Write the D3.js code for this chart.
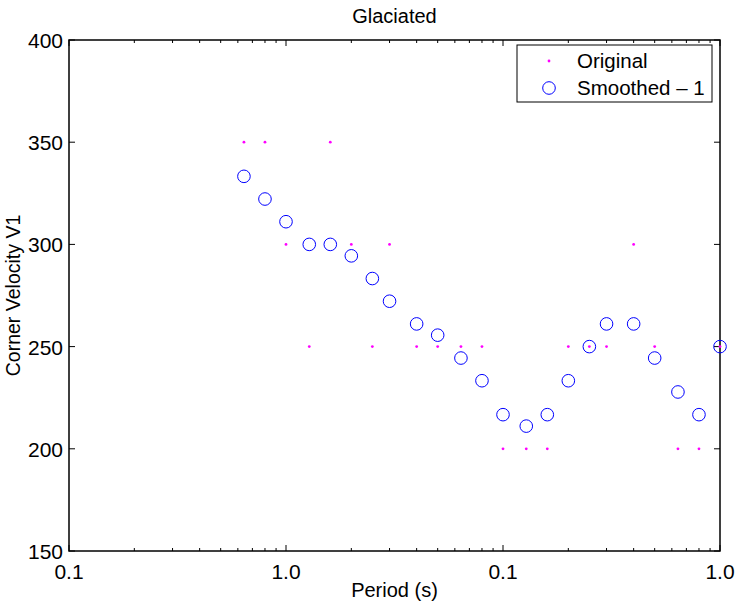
<!DOCTYPE html>
<html>
<head>
<meta charset="utf-8">
<script src="https://cdn.jsdelivr.net/npm/d3@7"></script>
<style>
  body { margin: 0; background: #fff; }
  text { font-family: "Liberation Sans", Arial, Helvetica, sans-serif; fill: #000; }
</style>
</head>
<body>
<div id="chart-area"></div>
<script>
var width = 740,
    height = 605;

// data
var periods = [0.64, 0.8, 1.0, 1.28, 1.6, 2.0, 2.5, 3.0, 4.0, 5.0, 6.4, 8.0,
               10, 12.8, 16, 20, 25, 30, 40, 50, 64, 80, 100];
var original = [350, 350, 300, 250, 350, 300, 250, 300, 250, 250, 250, 250,
                200, 200, 200, 250, 250, 250, 300, 250, 200, 200, 250];
var smoothed = [333.3, 322.2, 311.1, 300, 300, 294.4, 283.3, 272.2, 261.1, 255.6, 244.4, 233.3,
                216.7, 211.1, 216.7, 233.3, 250, 261.1, 261.1, 244.4, 227.8, 216.7, 250];
var xTickValues = [0.1, 1, 10, 100];
var xTickLabels = ["0.1", "1.0", "0.1", "1.0"];
var yTickValues = [150, 200, 250, 300, 350, 400];
var seriesNames = ["Original", "Smoothed \u2013 1"];

var margin = {top: 40, right: 20, bottom: 54, left: 69};
var w = width - margin.left - margin.right,   // 651
    h = height - margin.top - margin.bottom;  // 511

var svg = d3.select("#chart-area").append("svg")
    .attr("width", width)
    .attr("height", height);

var g = svg.append("g")
    .attr("transform", "translate(" + margin.left + "," + margin.top + ")");

var x = d3.scaleLog().domain([0.1, 100]).range([0, w]);
var y = d3.scaleLinear().domain([150, 400]).range([h, 0]);

// minor ticks on the log axis (top and bottom)
var minor = x.ticks().filter(function(d) { return xTickValues.indexOf(d) < 0; });

g.selectAll(".minor-b").data(minor).enter().append("line")
    .attr("x1", d => x(d)).attr("x2", d => x(d))
    .attr("y1", h).attr("y2", h - 3)
    .style("stroke", "#000").style("stroke-width", 1);
g.selectAll(".minor-t").data(minor).enter().append("line")
    .attr("x1", d => x(d)).attr("x2", d => x(d))
    .attr("y1", 0).attr("y2", 3)
    .style("stroke", "#000").style("stroke-width", 1);

// major ticks
g.selectAll(".major-b").data(xTickValues).enter().append("line")
    .attr("x1", d => x(d)).attr("x2", d => x(d))
    .attr("y1", h).attr("y2", h - 6)
    .style("stroke", "#000");
g.selectAll(".major-t").data(xTickValues).enter().append("line")
    .attr("x1", d => x(d)).attr("x2", d => x(d))
    .attr("y1", 0).attr("y2", 6)
    .style("stroke", "#000");
g.selectAll(".ytick-l").data(yTickValues).enter().append("line")
    .attr("x1", 0).attr("x2", 6)
    .attr("y1", d => y(d)).attr("y2", d => y(d))
    .style("stroke", "#000");
g.selectAll(".ytick-r").data(yTickValues).enter().append("line")
    .attr("x1", w).attr("x2", w - 6)
    .attr("y1", d => y(d)).attr("y2", d => y(d))
    .style("stroke", "#000");

// box
g.append("rect")
    .attr("x", 0).attr("y", 0)
    .attr("width", w).attr("height", h)
    .style("fill", "none")
    .style("stroke", "#000")
    .style("stroke-width", 1.5);

// tick labels
g.selectAll(".xlabel").data(xTickValues).enter().append("text")
    .attr("x", d => x(d))
    .attr("y", h + 28)
    .attr("text-anchor", "middle")
    .style("font-size", "21px")
    .text((d, i) => xTickLabels[i]);

g.selectAll(".ylabel").data(yTickValues).enter().append("text")
    .attr("x", -6)
    .attr("y", d => y(d) + 8)
    .attr("text-anchor", "end")
    .style("font-size", "21px")
    .text(d => d);

// titles
svg.append("text")
    .attr("x", margin.left + w / 2)
    .attr("y", 23)
    .attr("text-anchor", "middle")
    .style("font-size", "20px")
    .text("Glaciated");

svg.append("text")
    .attr("x", margin.left + w / 2)
    .attr("y", 597)
    .attr("text-anchor", "middle")
    .style("font-size", "20px")
    .text("Period (s)");

svg.append("text")
    .attr("transform", "translate(20," + (margin.top + h / 2) + ") rotate(-90)")
    .attr("text-anchor", "middle")
    .style("font-size", "19.5px")
    .text("Corner Velocity V1");

// data
var pts = periods.map(function(p, i) { return {p: p, o: original[i], s: smoothed[i]}; });

g.selectAll(".orig").data(pts).enter().append("circle")
    .attr("cx", d => x(d.p))
    .attr("cy", d => y(d.o))
    .attr("r", 1.4)
    .style("fill", "#ff00ff");

g.selectAll(".smooth").data(pts).enter().append("circle")
    .attr("cx", d => x(d.p))
    .attr("cy", d => y(d.s))
    .attr("r", 6.3)
    .style("fill", "none")
    .style("stroke", "#0000ff")
    .style("stroke-width", 1);

// legend
var leg = svg.append("g").attr("transform", "translate(517,45)");
leg.append("rect")
    .attr("width", 195).attr("height", 57)
    .style("fill", "#fff")
    .style("stroke", "#000")
    .style("stroke-width", 1);
leg.append("circle")
    .attr("cx", 32).attr("cy", 16).attr("r", 1.4)
    .style("fill", "#ff00ff");
leg.append("circle")
    .attr("cx", 32).attr("cy", 43).attr("r", 6.3)
    .style("fill", "none").style("stroke", "#0000ff");
leg.selectAll(".legtext").data(seriesNames).enter().append("text")
    .attr("x", 60)
    .attr("y", (d, i) => 23 + i * 27)
    .style("font-size", "20.5px")
    .text(d => d);
</script>
</body>
</html>
